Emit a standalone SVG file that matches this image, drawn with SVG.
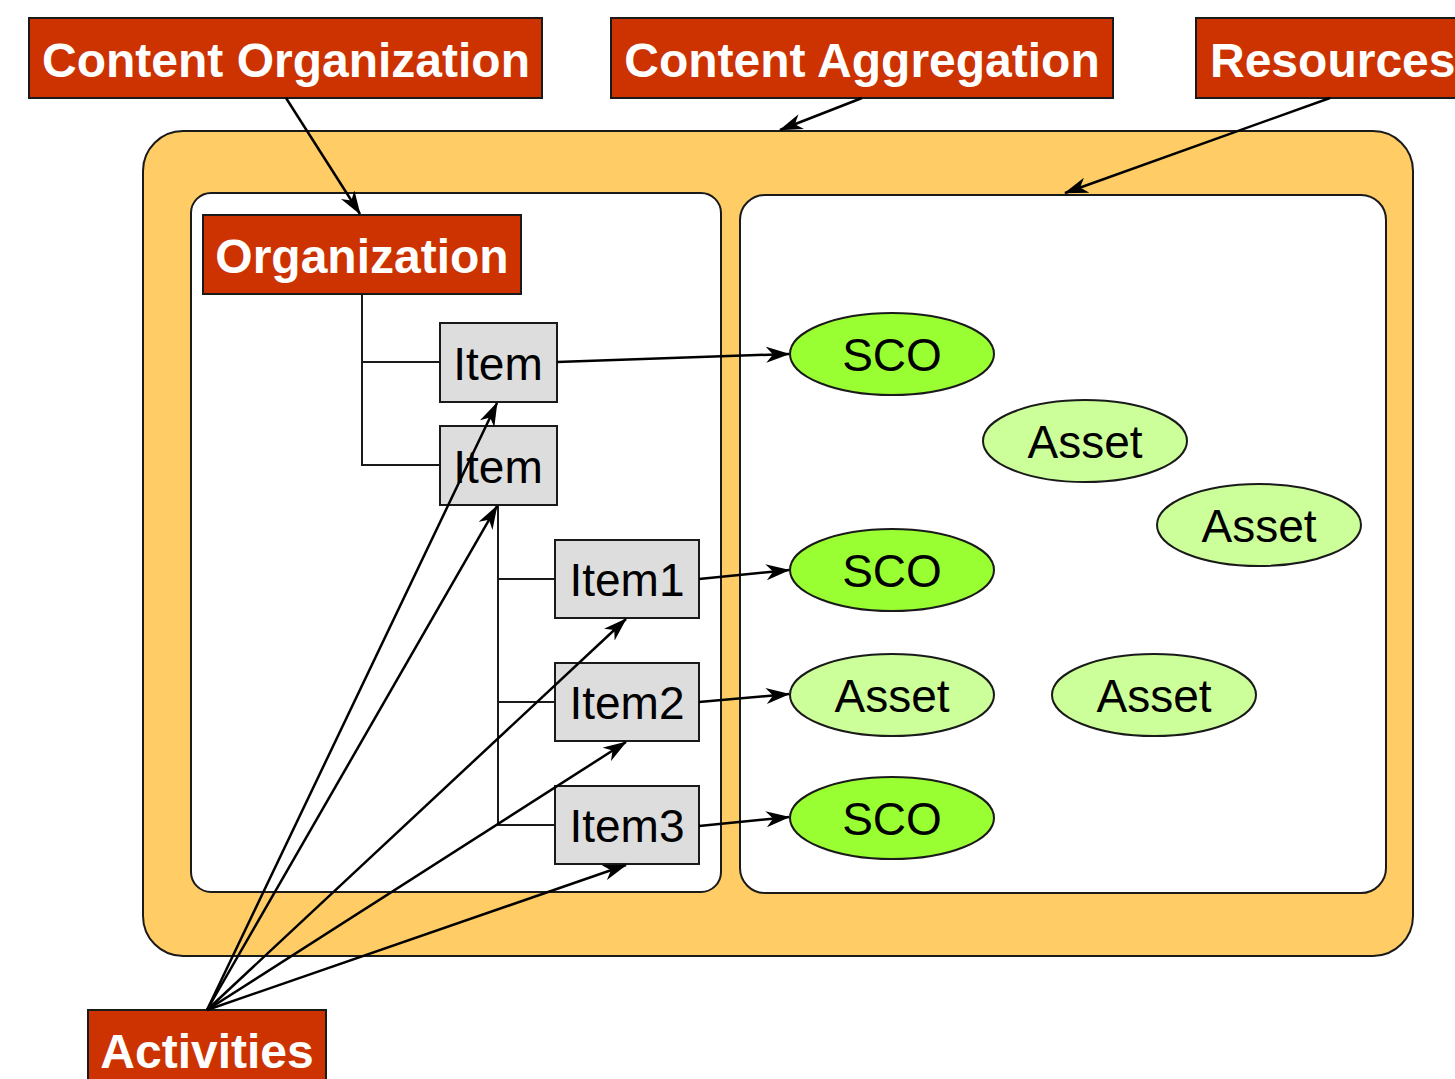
<svg xmlns="http://www.w3.org/2000/svg" width="1455" height="1079" viewBox="0 0 1455 1079">
<defs>
<style>
.hdr{fill:#CC3300;stroke:#1a1a1a;stroke-width:2}
.htx{font-family:"Liberation Sans",Arial,sans-serif;font-weight:bold;font-size:48px;fill:#fff;text-anchor:middle}
.item{fill:#DDDDDD;stroke:#1a1a1a;stroke-width:2}
.itx{font-family:"Liberation Sans",Arial,sans-serif;font-size:46px;fill:#000;text-anchor:middle}
.sco{fill:#99FF33;stroke:#1a1a1a;stroke-width:2}
.asset{fill:#CCFF99;stroke:#1a1a1a;stroke-width:2}
.tree{fill:none;stroke:#1a1a1a;stroke-width:2}
.arr{fill:none;stroke:#000;stroke-width:2.5;marker-end:url(#ah)}
</style>
<marker id="ah" viewBox="0 0 24 16" refX="23" refY="8" markerWidth="24" markerHeight="16" markerUnits="userSpaceOnUse" orient="auto">
<path d="M0,0 L24,8 L0,16 L7,8 z" fill="#000"/>
</marker>
</defs>
<rect width="1455" height="1079" fill="#fff"/>
<g id="aggregation-area">
<rect x="143" y="131" width="1270" height="825" rx="40" fill="#FFCC66" stroke="#1a1a1a" stroke-width="2"/>
<rect x="191" y="193" width="530" height="699" rx="20" fill="#fff" stroke="#1a1a1a" stroke-width="2"/>
<rect x="740" y="195" width="646" height="698" rx="25" fill="#fff" stroke="#1a1a1a" stroke-width="2"/>
</g>
<g id="tree-lines">
<path class="tree" d="M362,294 V465 H440 M362,362 H440 M498,505 V825 H555 M498,579 H555 M498,702 H555"/>
</g>
<g id="content-organization"><rect class="hdr" x="29" y="18" width="513" height="80"/><text class="htx" x="286" y="77">Content Organization</text></g>
<g id="content-aggregation"><rect class="hdr" x="611" y="18" width="502" height="80"/><text class="htx" x="862" y="77">Content Aggregation</text></g>
<g id="resources"><rect class="hdr" x="1196" y="18" width="270" height="80"/><text class="htx" x="1210" y="77" style="text-anchor:start">Resources</text></g>
<g id="organization"><rect class="hdr" x="203" y="215" width="318" height="79"/><text class="htx" x="362" y="273">Organization</text></g>
<g id="activities"><rect class="hdr" x="88" y="1010" width="238" height="80"/><text class="htx" x="207" y="1068">Activities</text></g>
<g id="item-a"><rect class="item" x="440" y="323" width="117" height="79"/><text class="itx" x="498" y="380">Item</text></g>
<g id="item-b"><rect class="item" x="440" y="426" width="117" height="79"/><text class="itx" x="498" y="483">Item</text></g>
<g id="item1"><rect class="item" x="555" y="540" width="144" height="78"/><text class="itx" x="627" y="596">Item1</text></g>
<g id="item2"><rect class="item" x="555" y="663" width="144" height="78"/><text class="itx" x="627" y="719">Item2</text></g>
<g id="item3"><rect class="item" x="555" y="786" width="144" height="78"/><text class="itx" x="627" y="842">Item3</text></g>
<g id="sco1"><ellipse class="sco" cx="892" cy="354" rx="102" ry="41"/><text class="itx" x="892" y="371">SCO</text></g>
<g id="asset1"><ellipse class="asset" cx="1085" cy="441" rx="102" ry="41"/><text class="itx" x="1085" y="458">Asset</text></g>
<g id="asset2"><ellipse class="asset" cx="1259" cy="525" rx="102" ry="41"/><text class="itx" x="1259" y="542">Asset</text></g>
<g id="sco2"><ellipse class="sco" cx="892" cy="570" rx="102" ry="41"/><text class="itx" x="892" y="587">SCO</text></g>
<g id="asset3"><ellipse class="asset" cx="892" cy="695" rx="102" ry="41"/><text class="itx" x="892" y="712">Asset</text></g>
<g id="asset4"><ellipse class="asset" cx="1154" cy="695" rx="102" ry="41"/><text class="itx" x="1154" y="712">Asset</text></g>
<g id="sco3"><ellipse class="sco" cx="892" cy="818" rx="102" ry="41"/><text class="itx" x="892" y="835">SCO</text></g>
<g id="connectors">
<line class="arr" x1="286" y1="98" x2="360" y2="214"/>
<line class="arr" x1="862" y1="98" x2="780" y2="130"/>
<line class="arr" x1="1330" y1="98" x2="1065" y2="193"/>
<line class="arr" x1="557" y1="362" x2="789" y2="354"/>
<line class="arr" x1="699" y1="579" x2="789" y2="570"/>
<line class="arr" x1="699" y1="702" x2="789" y2="694"/>
<line class="arr" x1="699" y1="826" x2="789" y2="817"/>
<line class="arr" x1="207" y1="1010" x2="497" y2="403"/>
<line class="arr" x1="207" y1="1010" x2="497" y2="506"/>
<line class="arr" x1="207" y1="1010" x2="626" y2="619"/>
<line class="arr" x1="207" y1="1010" x2="626" y2="742"/>
<line class="arr" x1="207" y1="1010" x2="626" y2="865"/>
</g>
</svg>
